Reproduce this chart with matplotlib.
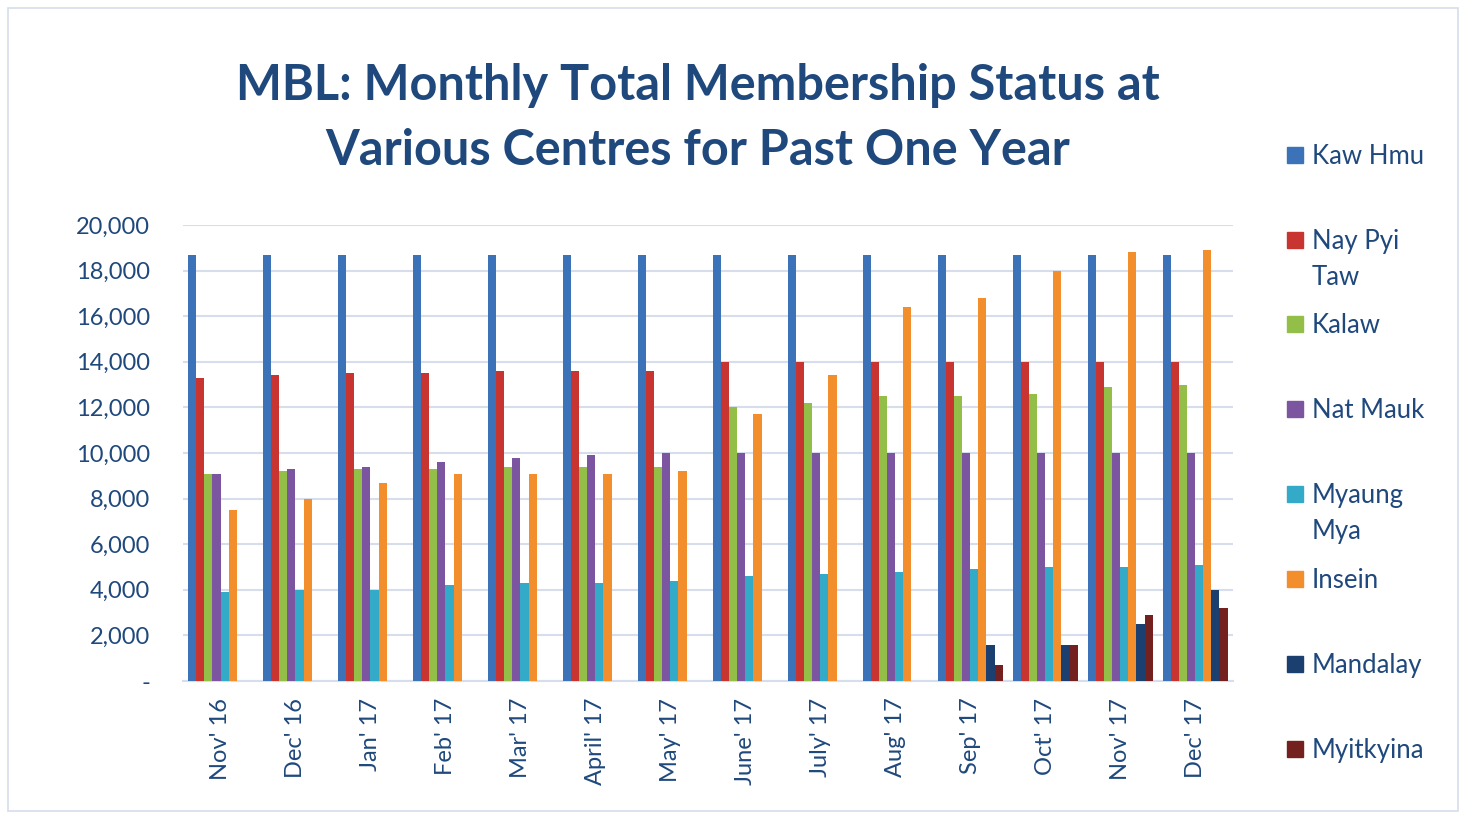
import matplotlib
matplotlib.use('Agg')
import matplotlib.pyplot as plt
import numpy as np
from matplotlib.ticker import FuncFormatter
from matplotlib.patches import Rectangle

plt.rcParams['font.family'] = ['Lato', 'DejaVu Sans']

# months on the x axis
months = ["Nov' 16", "Dec' 16", "Jan' 17", "Feb' 17", "Mar' 17", "April' 17", "May' 17",
          "June' 17", "July' 17", "Aug' 17", "Sep' 17", "Oct' 17", "Nov' 17", "Dec' 17"]

# centres (legend order)
centres = ['Kaw Hmu', 'Nay Pyi\nTaw', 'Kalaw', 'Nat Mauk', 'Myaung\nMya', 'Insein', 'Mandalay', 'Myitkyina']

# membership values
kaw_hmu = [18700, 18700, 18700, 18700, 18700, 18700, 18700, 18700, 18700, 18700, 18700, 18700, 18700, 18700]
nay_pyi_taw = [13300, 13400, 13500, 13500, 13600, 13600, 13600, 14000, 14000, 14000, 14000, 14000, 14000, 14000]
kalaw = [9100, 9200, 9300, 9300, 9400, 9400, 9400, 12000, 12200, 12500, 12500, 12600, 12900, 13000]
nat_mauk = [9100, 9300, 9400, 9600, 9800, 9900, 10000, 10000, 10000, 10000, 10000, 10000, 10000, 10000]
myaung_mya = [3900, 4000, 4000, 4200, 4300, 4300, 4400, 4600, 4700, 4800, 4900, 5000, 5000, 5100]
insein = [7500, 8000, 8700, 9100, 9100, 9100, 9200, 11700, 13400, 16400, 16800, 18000, 18800, 18900]
mandalay = [0, 0, 0, 0, 0, 0, 0, 0, 0, 0, 1600, 1600, 2500, 4000]
myitkyina = [0, 0, 0, 0, 0, 0, 0, 0, 0, 0, 700, 1600, 2900, 3200]

series = [kaw_hmu, nay_pyi_taw, kalaw, nat_mauk, myaung_mya, insein, mandalay, myitkyina]
colors = ['#3C73B8', '#C8342F', '#93BE48', '#7B559F', '#33AAC8', '#F28E2C', '#1B3F6E', '#73201E']

text_col = '#1F487C'

fig = plt.figure(figsize=(14.66, 8.15), dpi=100)
ax = fig.add_axes([0.125, 0.1644, 0.716, 0.5595])

x = np.arange(len(months))
w = 0.108
for i, (vals, c) in enumerate(zip(series, colors)):
    ax.bar(x - 0.435 + w * (i + 0.5), vals, width=w, color=c, linewidth=0, zorder=3)

ax.set_xlim(-0.5, len(months) - 0.5)
ax.set_ylim(0, 20000)
ax.set_yticks(np.arange(0, 20001, 2000))
ax.yaxis.set_major_formatter(FuncFormatter(lambda v, p: '-' if v == 0 else '{:,.0f}'.format(v)))
ax.grid(axis='y', color='#D6DEEE', linewidth=1.5, zorder=0)
for s in ['top', 'right', 'left']:
    ax.spines[s].set_visible(False)
ax.spines['bottom'].set_color('#D6DEEE')
ax.spines['bottom'].set_linewidth(1.5)
ax.tick_params(axis='both', length=0, colors=text_col, labelsize=17)
ax.tick_params(axis='y', pad=24)
ax.set_xticks(x)
ax.set_xticklabels(months, rotation=90, va='top', ha='center')
ax.tick_params(axis='x', pad=12)

fig.text(0.476, 0.895, 'MBL: Monthly Total Membership Status at', ha='center', va='center',
         fontsize=35, fontweight='bold', color=text_col)
fig.text(0.476, 0.815, 'Various Centres for Past One Year', ha='center', va='center',
         fontsize=35, fontweight='bold', color=text_col)

# legend drawn by hand to keep the wide spacing
leg_y = [155, 240, 324, 409, 494, 579, 664, 749]
for lab, c, yp in zip(centres, colors, leg_y):
    fig.add_artist(Rectangle((1287 / 1466, 1 - (yp + 8) / 815), 16 / 1466, 16 / 815,
                             transform=fig.transFigure, color=c))
    fig.text(1312 / 1466, 1 - (yp - 11) / 815, lab, ha='left', va='top', fontsize=18.5,
             color=text_col, linespacing=1.55)

fig.add_artist(Rectangle((8 / 1466, 4 / 815), 1450 / 1466, 803 / 815, transform=fig.transFigure,
                         fill=False, edgecolor='#D5DDEB', linewidth=1.2))

fig.savefig('out.png', dpi=100)
